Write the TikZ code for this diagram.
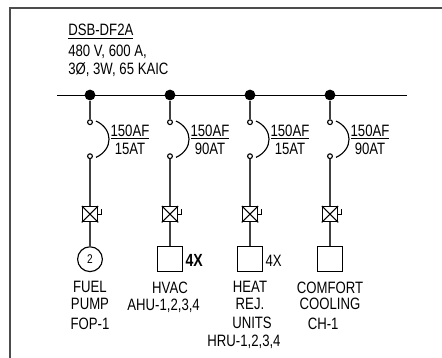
\documentclass[tikz,border=0pt]{standalone}
\usepackage{fontspec}
\setmainfont[FakeStretch=0.8]{Liberation Sans}
\usetikzlibrary{positioning, calc}
\definecolor{framegray}{gray}{0.3}
\tikzset{busdot/.style={circle, fill=black, inner sep=0pt, minimum size=0.27cm},
term/.style={circle, draw, thick, fill=white, inner sep=0pt, minimum size=0.12cm},
swbox/.style={draw, thick, fill=white, inner sep=0pt, minimum size=0.38cm},
load/.style={draw, thick, inner sep=0pt, minimum size=0.62cm},
motor/.style={circle, draw, thick, inner sep=0pt, minimum size=0.62cm},
txt/.style={inner sep=0pt, align=center, font=\fontsize{11.7}{12}\selectfont},
line/.style={thick, black!75},
trip/.style={thick, out=-25, in=25, looseness=1.35}
}
\newcommand{\xbox}[1]{\draw[thick] (#1.north west) -- (#1.south east) (#1.north east) -- (#1.south west);
\draw[semithick] (#1.east) -| ([xshift=.09cm,yshift=.13cm]#1.east);}

\begin{document}
\begin{tikzpicture}
\useasboundingbox (0,0) rectangle (11.05,-8.95);
\coordinate (fa) at (0.25,-8.95);
\coordinate (fb) at (0.25,-0.2);
\coordinate (fc) at (11.05,-0.2);
\draw[thick,framegray] (fa) -- (fb) -- (fc);
\node[txt,anchor=base west] (title) at (1.7,-0.9) {\underline{DSB-DF2A}};
\node[txt,align=left,below=0.14cm of title.south west,anchor=north west] (rating) {480 V, 600 A,\\[1pt]3Ø, 3W, 65 KAIC};
% bus
\node[busdot] (a) at (2.25,-2.375) {};
\node[busdot] (b) at ([xshift=2cm]a) {};
\node[busdot] (c) at ([xshift=2cm]b) {};
\node[busdot] (d) at ([xshift=2cm]c) {};
\coordinate (busl) at ([xshift=-0.82cm]a);
\coordinate (busr) at ([xshift=1.93cm]d);
\draw[semithick] (busl) -- (busr);
% breakers
\node[term] (a1) at ([yshift=-0.68cm]a) {};
\node[term] (a2) at ([yshift=-0.85cm]a1) {};
\node[term] (b1) at ([yshift=-0.68cm]b) {};
\node[term] (b2) at ([yshift=-0.85cm]b1) {};
\node[term] (c1) at ([yshift=-0.68cm]c) {};
\node[term] (c2) at ([yshift=-0.85cm]c1) {};
\node[term] (d1) at ([yshift=-0.68cm]d) {};
\node[term] (d2) at ([yshift=-0.85cm]d1) {};
\draw[trip] ([xshift=.15cm,yshift=.03cm]a1.center) to ([xshift=.15cm,yshift=-.03cm]a2.center);
\draw[trip] ([xshift=.15cm,yshift=.03cm]b1.center) to ([xshift=.15cm,yshift=-.03cm]b2.center);
\draw[trip] ([xshift=.15cm,yshift=.03cm]c1.center) to ([xshift=.15cm,yshift=-.03cm]c2.center);
\draw[trip] ([xshift=.15cm,yshift=.03cm]d1.center) to ([xshift=.15cm,yshift=-.03cm]d2.center);
\node[txt] (al) at ([xshift=1cm,yshift=-.02cm]$(a1)!0.5!(a2)$) {\underline{150AF}\\[1pt]15AT};
\node[txt] (bl) at ([xshift=1cm,yshift=-.02cm]$(b1)!0.5!(b2)$) {\underline{150AF}\\[1pt]90AT};
\node[txt] (cl) at ([xshift=1cm,yshift=-.02cm]$(c1)!0.5!(c2)$) {\underline{150AF}\\[1pt]15AT};
\node[txt] (dl) at ([xshift=1cm,yshift=-.02cm]$(d1)!0.5!(d2)$) {\underline{150AF}\\[1pt]90AT};
% disconnects
\node[swbox] (as) at ([yshift=-1.45cm]a2) {};
\node[swbox] (bs) at ([yshift=-1.45cm]b2) {};
\node[swbox] (cs) at ([yshift=-1.45cm]c2) {};
\node[swbox] (ds) at ([yshift=-1.45cm]d2) {};
% loads
\node[motor] (am) at ([yshift=-1.125cm]as) {\fontsize{9}{9}\selectfont 2};
\node[load] (bm) at ([yshift=-1.125cm]bs) {};
\node[load] (cm) at ([yshift=-1.125cm]cs) {};
\node[load] (dm) at ([yshift=-1.125cm]ds) {};
\draw[line] (a) -- (a1);
\draw[line] (b) -- (b1);
\draw[line] (c) -- (c1);
\draw[line] (d) -- (d1);
\draw[line] (a2) -- (as);
\draw[line] (b2) -- (bs);
\draw[line] (c2) -- (cs);
\draw[line] (d2) -- (ds);
\draw[line] (as) -- (am);
\draw[line] (bs) -- (bm);
\draw[line] (cs) -- (cm);
\draw[line] (ds) -- (dm);
\xbox{as}
\xbox{bs}
\xbox{cs}
\xbox{ds}
\node[txt,font=\fontsize{12.5}{12}\selectfont\bfseries,anchor=west] (bx) at ([xshift=.06cm,yshift=-.04cm]bm.east) {4X};
\node[txt,anchor=west] (cx) at ([xshift=.06cm,yshift=-.04cm]cm.east) {4X};
% labels
\node[txt,below=0.23cm of am] (an) {FUEL\\PUMP\\[2pt]FOP-1};
\node[txt,below=0.23cm of bm] (bn) {HVAC};
\node[txt,below=0.14cm of bn,xshift=-0.16cm] (bt) {AHU-1,2,3,4};
\node[txt,below=0.23cm of cm] (cn) {HEAT\\REJ.};
\node[txt,below=0.17cm of cn,xshift=0.05cm] (cu) {UNITS};
\node[txt,below=0.14cm of cu,xshift=-0.2cm] (ct) {HRU-1,2,3,4};
\node[txt,below=0.23cm of dm] (dn) {COMFORT\\COOLING};
\node[txt,below=0.17cm of dn,xshift=-0.17cm] (dt) {CH-1};
\end{tikzpicture}
\end{document}
